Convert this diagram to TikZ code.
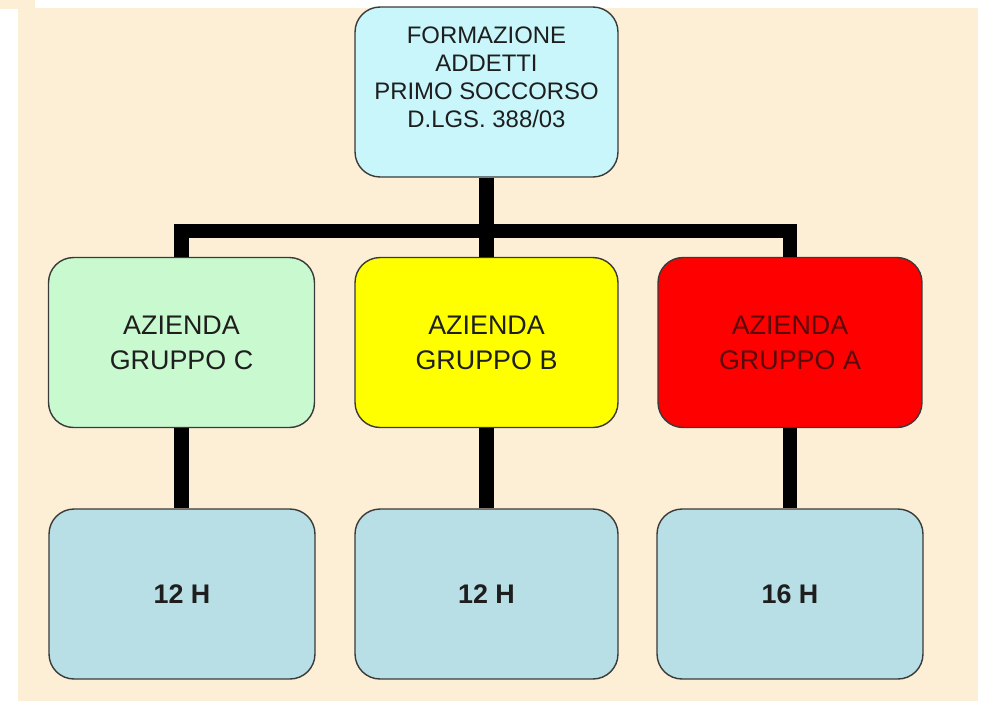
\documentclass[tikz,border=0pt]{standalone}
\usepackage{fontspec}
\setmainfont{Liberation Sans}
\usepackage{tikz}
\usetikzlibrary{positioning, calc}
\definecolor{bg-beige}{HTML}{FCEFD6}
\definecolor{box-cyan}{HTML}{C8F6FA}
\definecolor{box-green}{HTML}{C9F9CF}
\definecolor{box-yellow}{HTML}{FFFF00}
\definecolor{box-red}{HTML}{FF0000}
\definecolor{box-blue}{HTML}{B8DFE5}
\definecolor{edge-grey}{HTML}{3A3A3A}
\definecolor{text-dark}{HTML}{1E1E1E}
\definecolor{text-red}{HTML}{5A0A0A}

\begin{document}
\begin{tikzpicture}[x=0.02cm, y=-0.02cm,
		box/.style={draw=edge-grey, line width=0.8pt, rounded corners=0.5cm, minimum width=5.26cm, minimum height=3.4cm, text=text-dark, align=center},
		group/.style={box, font=\fontsize{15.3}{19.8}\selectfont},
		hours/.style={box, fill=box-blue, font=\fontsize{15.3}{18}\selectfont\bfseries},
		link/.style={line width=0.29cm, black}]
					\useasboundingbox (0,0) rectangle (982,701);
					\fill[white] (0,0) rectangle (982,701);
					\fill[bg-beige] (18,8) rectangle (978,701);
					\fill[bg-beige] (0,0) rectangle (35,9);
					
					\node[box, fill=box-cyan] at (486.5,92) (top) {};
					\node[align=center, text=text-dark, font=\fontsize{13.6}{15.9}\selectfont] at (486.5,77) (toptext) {FORMAZIONE\\ADDETTI\\PRIMO SOCCORSO\\D.LGS. 388/03};
					
					\node[group, fill=box-green, minimum width=5.32cm] at (181.5,342.5) (grpc) {AZIENDA\\GRUPPO C};
					\node[group, fill=box-yellow] at (486.5,342.5) (grpb) {AZIENDA\\GRUPPO B};
					\node[group, fill=box-red, text=text-red, minimum width=5.28cm] at (790,342.5) (grpa) {AZIENDA\\GRUPPO A};
					
					\node[hours, minimum width=5.32cm] at (182,594) (hc) {12 H};
					\node[hours] at (486.5,594) (hb) {12 H};
					\node[hours, minimum width=5.32cm] at (790,594) (ha) {16 H};
					
					\coordinate (bar) at (486.5,231);
					\draw[link] (top.south) -- (bar);
					\draw[link, line join=miter] (grpc.north) -- (grpc.north |- bar) -- (grpa.north |- bar) -- (grpa.north);
					\draw[link] (bar) -- (grpb.north);
					
					\draw[link] (grpc.south) -- (grpc.south |- hc.north);
					\draw[link] (grpb.south) -- (hb.north);
					\draw[link] (grpa.south) -- (ha.north);
				\end{tikzpicture}
\end{document}
